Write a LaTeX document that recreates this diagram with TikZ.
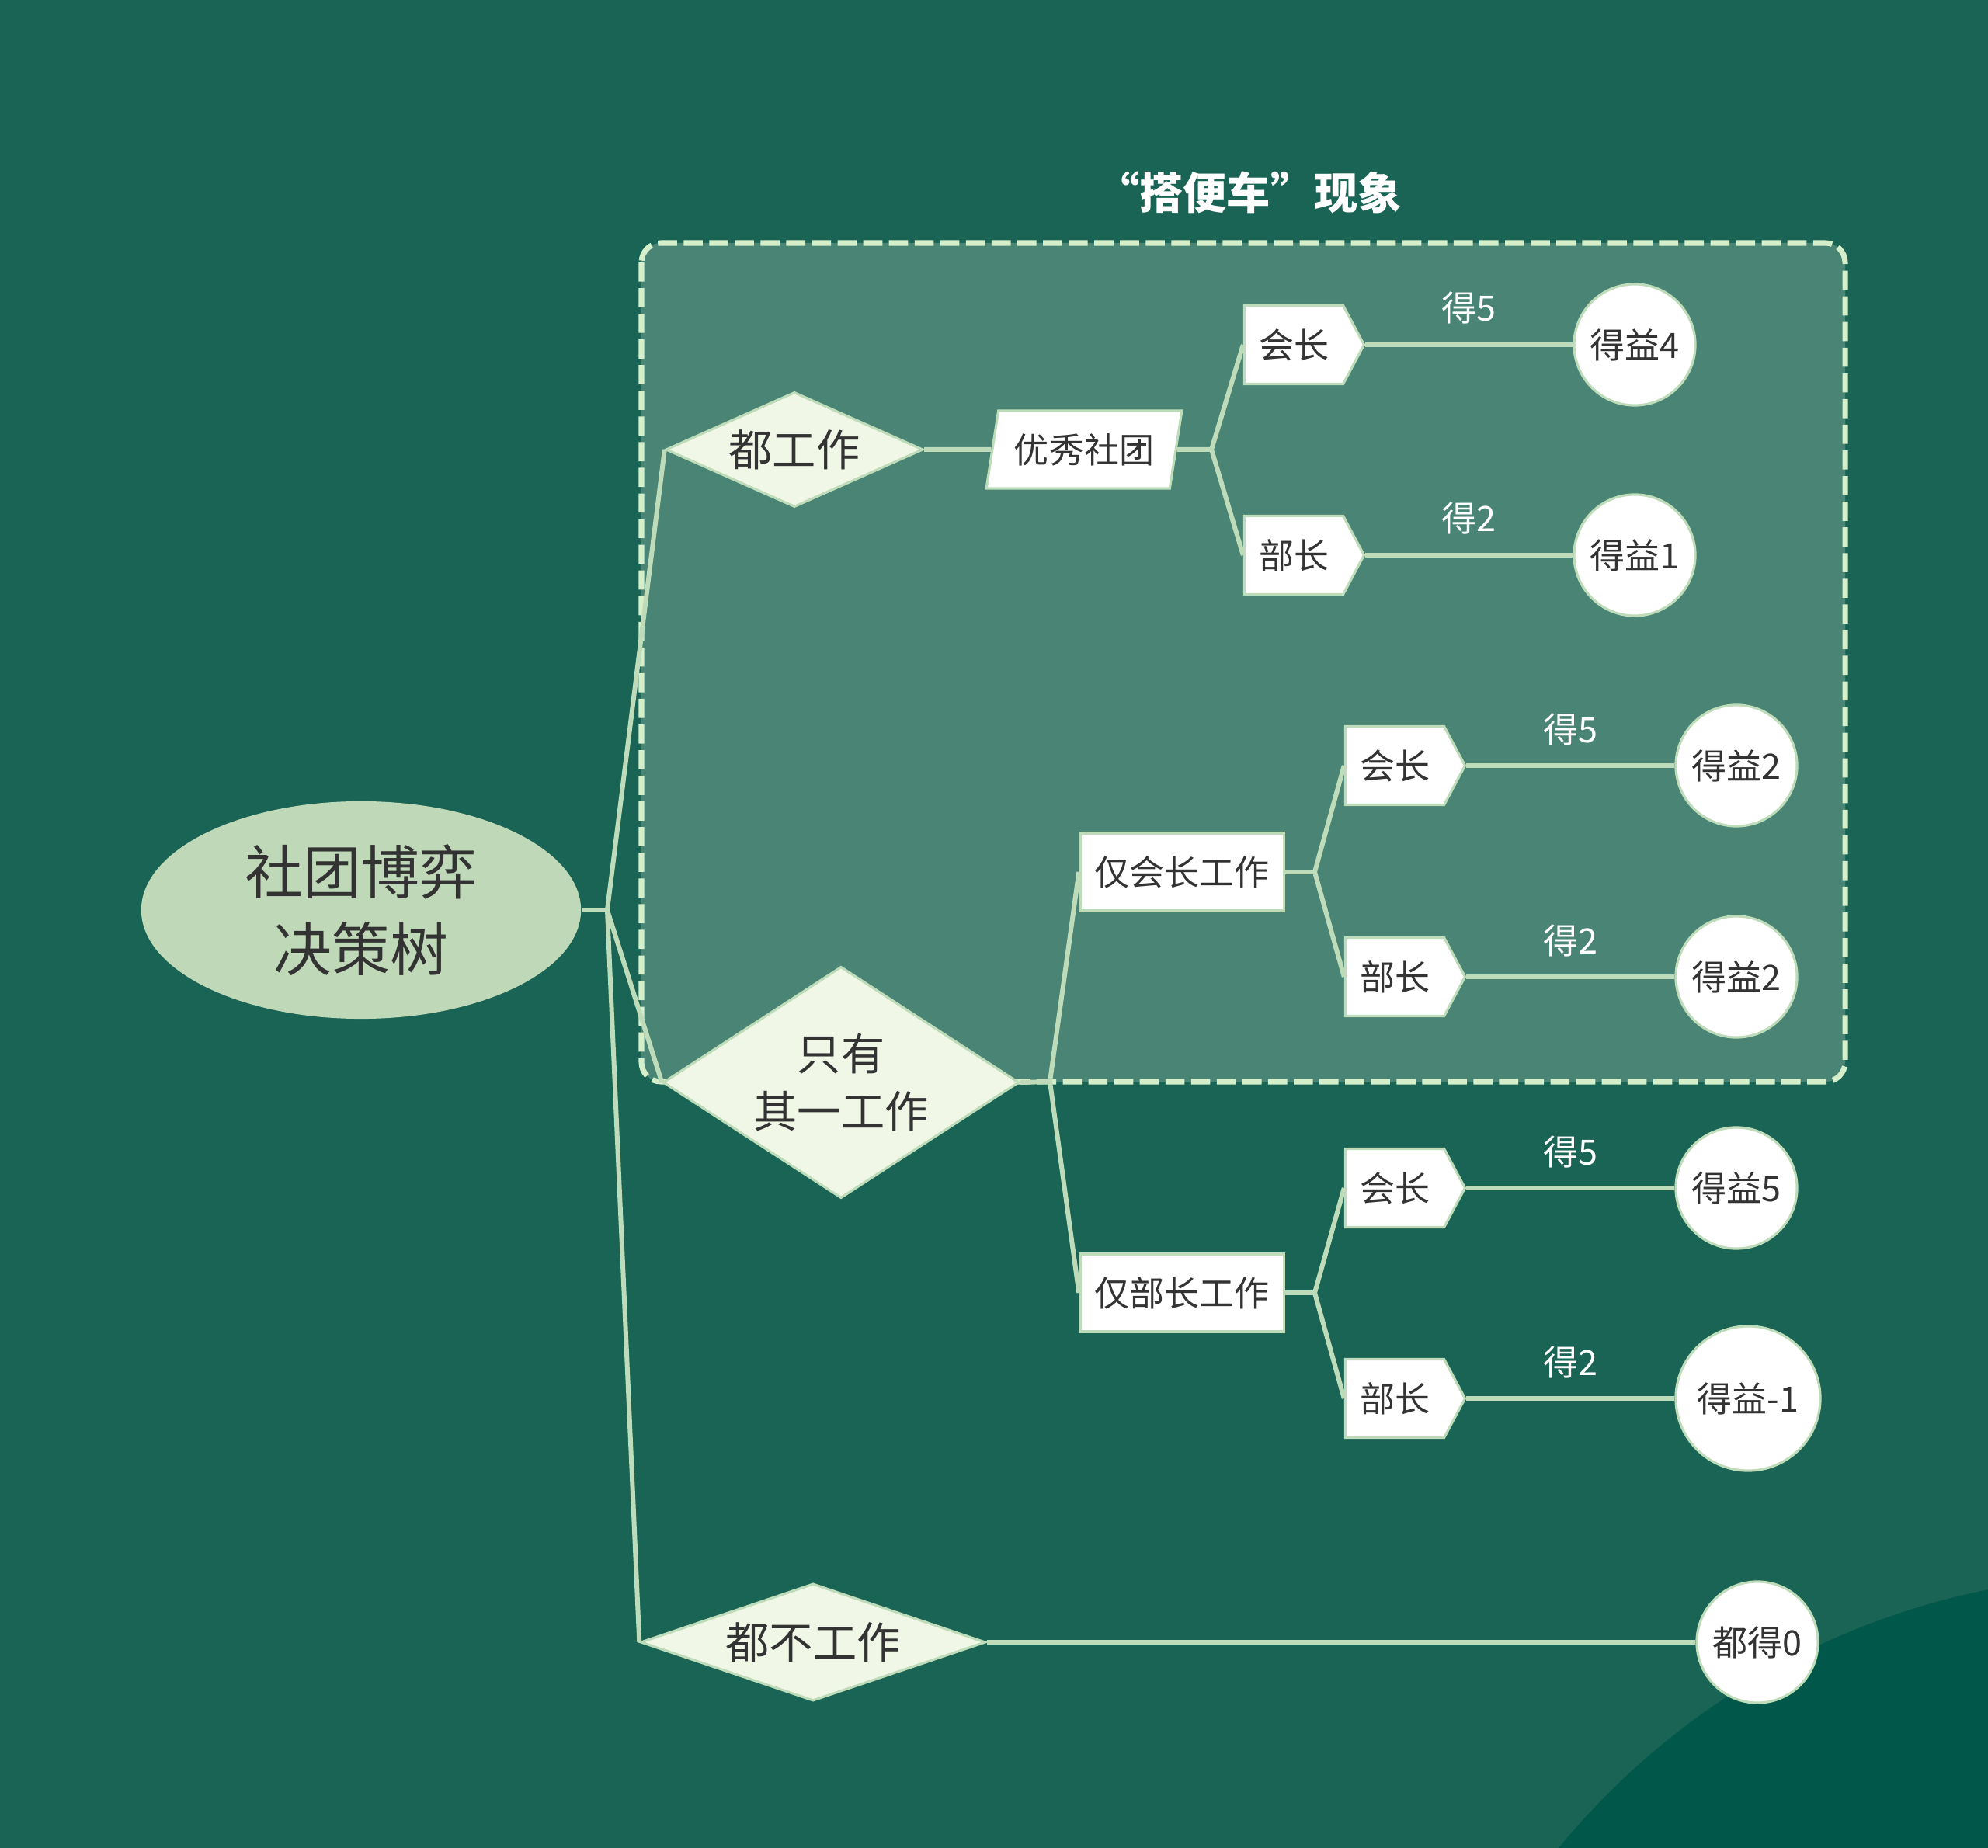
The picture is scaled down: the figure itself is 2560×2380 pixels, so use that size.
\documentclass[tikz,border=0pt]{standalone}
\usepackage{fontspec}
\setmainfont{Noto Sans CJK SC}
\usetikzlibrary{shapes.geometric,shapes.symbols}
\definecolor{treebg}{HTML}{1A6455}
\definecolor{treepanel}{HTML}{4A8474}
\definecolor{treecorner}{HTML}{00574A}
\definecolor{treeline}{HTML}{BEDCB9}
\definecolor{treedash}{HTML}{D6EFCB}
\definecolor{treeroot}{HTML}{BFD9B8}
\definecolor{treepale}{HTML}{F0F7E7}
\definecolor{treeink}{HTML}{333333}

\begin{document}
\begin{tikzpicture}[x=0.01cm, y=-0.01cm,
  link/.style={draw=treeline, line width=1.7pt},
  choice/.style={
    diamond, draw=treeline, line width=0.9pt, fill=treepale,
    text=treeink, inner sep=0pt, align=center,
    font=\fontsize{16pt}{21pt}\selectfont
  },
  plainbox/.style={
    rectangle, draw=treeline, line width=0.9pt, fill=white,
    text=treeink, inner sep=0pt, minimum width=2.62cm, minimum height=1cm,
    font=\fontsize{12.8pt}{15pt}\selectfont
  },
  slantbox/.style={
    trapezium, trapezium left angle=73, trapezium right angle=107,
    trapezium stretches=true, draw=treeline, line width=0.9pt, fill=white,
    text=treeink, inner sep=0pt, minimum width=2.52cm, minimum height=1cm,
    font=\fontsize{12.8pt}{15pt}\selectfont
  },
  rolebox/.style={
    signal, signal to=east, signal pointer angle=124,
    draw=treeline, line width=0.9pt, fill=white,
    text=treeink, inner sep=0pt, minimum width=1.54cm, minimum height=1.01cm,
    font=\fontsize{12.8pt}{15pt}\selectfont
  },
  payoff/.style={
    circle, draw=treeline, line width=0.9pt, fill=white,
    text=treeink, inner sep=0pt, minimum size=#1,
    font=\fontsize{12.8pt}{15pt}\selectfont
  },
  payoff/.default=1.56cm,
  gain/.style={midway, yshift=0.47cm, text=white, font=\fontsize{12.8pt}{15pt}\selectfont}
]
\useasboundingbox (0,0) rectangle (2560,2380);
\fill[treebg] (0,0) rectangle (2560,2380);
\begin{scope}
  \clip (0,0) rectangle (2560,2380);
  \fill[treecorner] (2750,2989) circle[radius=9.6cm];
\end{scope}

\draw[treedash, fill=treepanel, line width=2pt, dash pattern=on 7pt off 2.4pt, rounded corners=0.25cm]
  (826,313) rectangle (2376,1393);
\node[text=white, font=\bfseries\fontsize{16pt}{20pt}\selectfont] (title) at (1608,248) {“搭便车”现象};

\node[ellipse, fill=treeroot, text=treeink, minimum width=5.66cm, minimum height=2.8cm, align=center,
  font=\fontsize{21.3pt}{28pt}\selectfont] (root) at (465,1172) {社团博弈\\决策树};

\node[choice, aspect=2.24, minimum width=3.31cm, minimum height=1.48cm] (d1) at (1023,579) {都工作};
\node[choice, aspect=1.54, minimum width=4.58cm, minimum height=2.98cm] (d2) at (1083,1394) {只有\\其一工作};
\node[choice, aspect=2.94, minimum width=4.44cm, minimum height=1.51cm] (d3) at (1047,2115) {都不工作};

\node[slantbox] (p1) at (1396,579) {优秀社团};
\node[plainbox] (r1) at (1522,1123) {仅会长工作};
\node[plainbox] (r2) at (1522,1665) {仅部长工作};

\node[rolebox] (s1) at (1666,444) {会长};
\node[rolebox] (s2) at (1666,715) {部长};
\node[rolebox] (s3) at (1796,986) {会长};
\node[rolebox] (s4) at (1796,1258) {部长};
\node[rolebox] (s5) at (1796,1530) {会长};
\node[rolebox] (s6) at (1796,1801) {部长};

\node[payoff] (c1) at (2105,444) {得益4};
\node[payoff] (c2) at (2105,715) {得益1};
\node[payoff] (c3) at (2236,986) {得益2};
\node[payoff] (c4) at (2236,1258) {得益2};
\node[payoff] (c5) at (2236,1530) {得益5};
\node[payoff=1.86cm] (c6) at (2251,1801) {得益-1};
\node[payoff] (c7) at (2263,2115) {都得0};

\coordinate (j0) at (782,1172);
\coordinate (j1) at (1560,579);
\coordinate (j2) at (1352,1393);
\coordinate (j3) at (1693,1123);
\coordinate (j4) at (1693,1665);

\draw[link] (root.east) -- (j0);
\foreach \b in {d1,d2,d3}{
  \draw[link] (j0) -- (\b.west);
}
\draw[link] (d1.east) -- (p1.west);
\draw[link] (p1.east) -- (j1);
\draw[link] (d2.east) -- (j2);
\draw[link] (r1.east) -- (j3);
\draw[link] (r2.east) -- (j4);
\foreach \a/\b in {j1/s1, j1/s2, j2/r1, j2/r2, j3/s3, j3/s4, j4/s5, j4/s6}{
  \draw[link] (\a) -- (\b.west);
}
\foreach \a/\b/\t in {s1/c1/得5, s2/c2/得2, s3/c3/得5, s4/c4/得2, s5/c5/得5, s6/c6/得2}{
  \draw[link] (\a.east) -- node[gain] {\t} (\b.west);
}
\draw[link] (d3.east) -- (c7.west);
\end{tikzpicture}
\end{document}
